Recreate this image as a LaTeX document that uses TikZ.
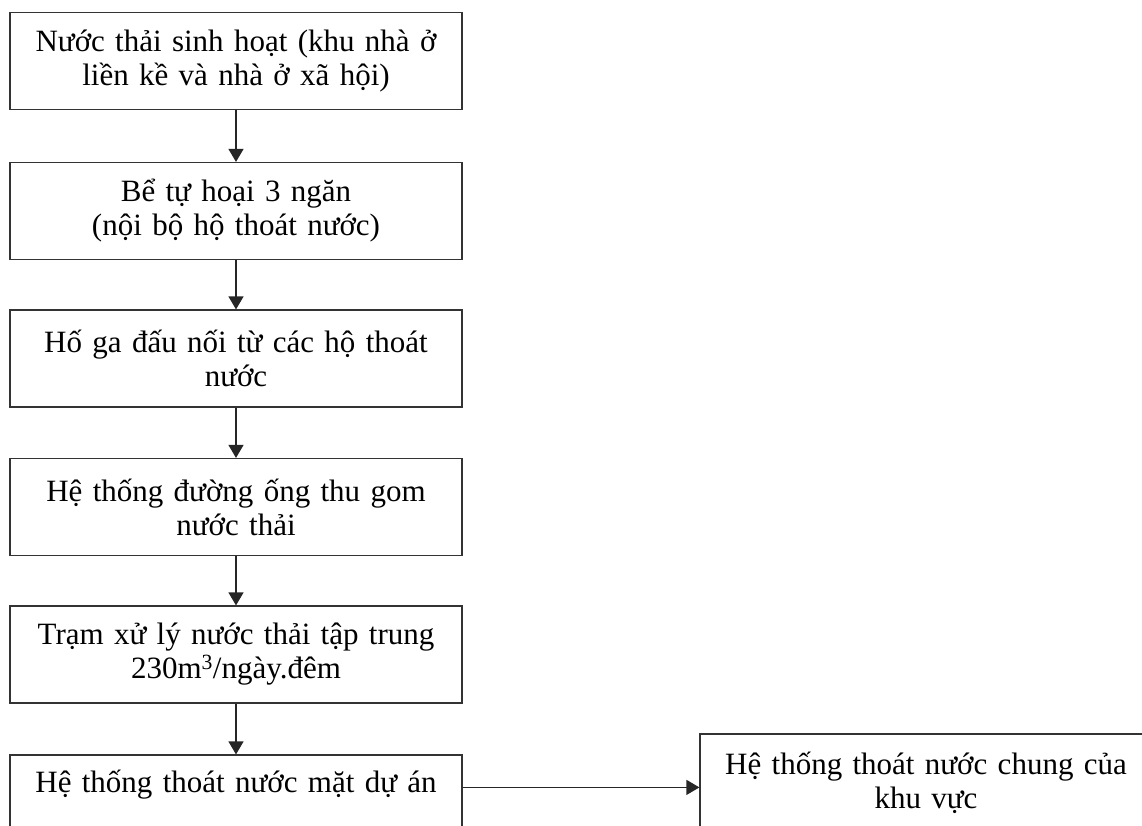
\documentclass[tikz,border=0pt]{standalone}
\usepackage{fontspec}
\setmainfont{Liberation Serif}
\usetikzlibrary{arrows.meta}

\tikzset{
  flowbox/.style={draw=black!80, line width=1.2pt, inner sep=0pt, minimum width=452pt, minimum height=97pt, text width=440pt, align=center, font=\fontsize{31}{34}\selectfont},
  flowarrow/.style={-{Triangle[length=13pt,width=15pt]}, line width=1.2pt, draw=black!85}
}

\begin{document}
\begin{tikzpicture}[x=1pt, y=-1pt]
  \useasboundingbox (0,0) rectangle (1142,825);
  \clip (0,0) rectangle (1142,825);
  \node[flowbox] (Source) at (236,61) {Nước thải sinh hoạt (khu nhà ở\\liền kề và nhà ở xã hội)};  % Wastewater source
  \node[flowbox] (Septic) at (236,211) {Bể tự hoại 3 ngăn\\(nội bộ hộ thoát nước)};  % Septic tank
  \node[flowbox] (Manhole) at (236,358.5) {Hố ga đấu nối từ các hộ thoát\\nước};  % Manhole
  \node[flowbox] (Pipes) at (236,507) {Hệ thống đường ống thu gom\\nước thải};  % Collection pipes
  \node[flowbox] (Plant) at (236,654.5) {Trạm xử lý nước thải tập trung\\230m\textsuperscript{3}/ngày.đêm};  % Treatment plant
  \node[flowbox] (Drain) at (236,803.5) {Hệ thống thoát nước mặt dự án\\\strut};  % Project drainage
  \node[flowbox] (Area) at (926,782.5) {Hệ thống thoát nước chung của\\khu vực};  % Area drainage
  \draw[flowarrow] (Source) -- (Septic);  % Connect boxes
  \draw[flowarrow] (Septic) -- (Manhole);
  \draw[flowarrow] (Manhole) -- (Pipes);
  \draw[flowarrow] (Pipes) -- (Plant);
  \draw[flowarrow] (Plant) -- (Drain);
  \draw[flowarrow] ([yshift=-33pt]Drain.north east) -- ([yshift=-33pt]Drain.north east -| Area.west);  % To area network
\end{tikzpicture}
\end{document}
